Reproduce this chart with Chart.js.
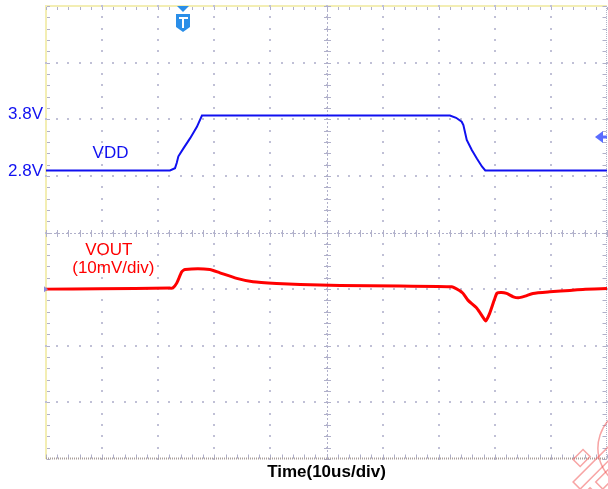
<!DOCTYPE html>
<html>
<head>
<meta charset="utf-8">
<script src="https://cdn.jsdelivr.net/npm/chart.js@4.4.1/dist/chart.umd.min.js"></script>
<style>
  html, body { margin: 0; padding: 0; background: #fff; }
  #wrap { position: relative; width: 608px; height: 489px; }
</style>
</head>
<body>
<div id="wrap"><canvas id="chart"></canvas></div>
<script>
// time axis, microseconds (10 us / div)
const vddTime  = [0, 22.1, 23.0, 23.3, 23.6, 24.5, 25.7, 26.9, 27.8, 72.0, 73.1, 74.1, 74.4, 75.0, 75.9, 76.8, 77.7, 78.3, 100];
const vddVolts = [2.81, 2.81, 2.85, 2.94, 3.06, 3.20, 3.38, 3.58, 3.78, 3.78, 3.74, 3.67, 3.61, 3.35, 3.17, 3.02, 2.88, 2.81, 2.81];

// VOUT deviation, millivolts (10 mV / div)
const voutTime = [0, 9.6, 22.1, 22.6, 23.3, 24.2, 24.8, 29.2, 31.0, 34.0, 36.9, 41.1, 45.3, 52.4, 63.1, 72.3,
                  73.8, 74.3, 75.2, 76.8, 78.0, 78.4, 79.1, 79.9, 80.4, 81.2, 82.1, 83.3, 84.2, 85.4, 86.8, 89.8, 95.7, 100];
const voutMv   = [0, 0.05, 0.18, 0.2, 1.06, 3.06, 3.48, 3.48, 2.88, 1.89, 1.29, 1.0, 0.83, 0.65, 0.53, 0.41,
                  -0.30, -0.71, -1.94, -3.36, -5.12, -5.60, -4.24, -1.94, -0.71, -0.58, -0.76, -1.36, -1.54, -1.24, -0.76, -0.48, -0.05, 0.09];

const vddTicks = [2.8, 3.8];
const triggerTime = 24.4;     // us
const triggerLevel = 3.40;    // V

const FONT = "'Liberation Sans', Arial, sans-serif";
const BLUE = '#1010f0';
const RED = '#ff0000';

const pts = (xs, ys) => xs.map((x, i) => ({x: x, y: ys[i]}));

const scopeGrid = {
    id: 'scopeGrid',
    beforeDatasetsDraw(chart) {
        const { ctx, chartArea: a, scales: { x, yM } } = chart;
        ctx.save();
        // pale yellow frame, left and top
        ctx.fillStyle = '#f3eeb4';
        ctx.fillRect(a.left - 1, a.top - 1, 2, a.bottom - a.top + 1);
        ctx.fillRect(a.left - 1, a.top - 1, a.right - a.left + 1, 2);

        // dotted division lines
        ctx.fillStyle = '#c0c0d6';
        for (let t = 10; t < 100; t += 10) {
            const px = Math.round(x.getPixelForValue(t));
            for (let m = -30; m <= 50; m += 2) {
                ctx.fillRect(px - 1, Math.round(yM.getPixelForValue(m)) - 1, 2, 2);
            }
        }
        for (let m = -20; m < 50; m += 10) {
            const py = Math.round(yM.getPixelForValue(m));
            for (let t = 0; t <= 100; t += 2) {
                ctx.fillRect(Math.round(x.getPixelForValue(t)) - 1, py - 1, 2, 2);
            }
        }

        // centre cross, dense dashes with small ticks
        const cx = Math.round(x.getPixelForValue(50));
        const cy = Math.round(yM.getPixelForValue(10));
        ctx.strokeStyle = '#b0b0ca';
        ctx.lineWidth = 1;
        ctx.setLineDash([2, 2]);
        ctx.beginPath();
        ctx.moveTo(cx + 0.5, a.top); ctx.lineTo(cx + 0.5, a.bottom);
        ctx.moveTo(a.left, cy + 0.5); ctx.lineTo(a.right, cy + 0.5);
        ctx.stroke();
        ctx.setLineDash([]);
        ctx.beginPath();
        for (let m = -30; m <= 50; m += 2) {
            const py = Math.round(yM.getPixelForValue(m)) + 0.5;
            ctx.moveTo(cx - 3, py); ctx.lineTo(cx + 4, py);
        }
        for (let t = 0; t <= 100; t += 2) {
            const px = Math.round(x.getPixelForValue(t)) + 0.5;
            ctx.moveTo(px, cy - 3); ctx.lineTo(px, cy + 4);
        }
        ctx.stroke();

        // border ticks
        ctx.beginPath();
        const bottom = Math.round(a.bottom) - 0.5;
        const right = Math.round(a.right) - 0.5;
        for (let t = 0; t <= 100; t += 2) {
            const px = Math.round(x.getPixelForValue(t)) + 0.5;
            ctx.moveTo(px, a.top + 1); ctx.lineTo(px, a.top + 4);
            ctx.moveTo(px, bottom); ctx.lineTo(px, bottom - 4);
        }
        for (let m = -30; m <= 50; m += 2) {
            const py = Math.round(yM.getPixelForValue(m)) + 0.5;
            ctx.moveTo(a.left + 1, py); ctx.lineTo(a.left + 4, py);
            ctx.moveTo(right, py); ctx.lineTo(right - 4, py);
        }
        ctx.stroke();
        ctx.strokeStyle = '#a89e9a';
        ctx.setLineDash([1, 1]);
        ctx.lineWidth = 2;
        ctx.beginPath();
        ctx.moveTo(a.left, bottom); ctx.lineTo(a.right, bottom);
        ctx.stroke();
        ctx.lineWidth = 1;
        ctx.strokeStyle = '#b0b0c8';
        ctx.beginPath();
        ctx.moveTo(right, a.top); ctx.lineTo(right, a.bottom);
        ctx.stroke();
        ctx.restore();
    }
};

const scopeMarks = {
    id: 'scopeMarks',
    afterDatasetsDraw(chart) {
        const { ctx, chartArea: a, scales: { x, yV, yM } } = chart;
        ctx.save();

        // labels
        ctx.textAlign = 'center';
        ctx.textBaseline = 'middle';
        ctx.font = '17px ' + FONT;
        ctx.fillStyle = BLUE;
        ctx.fillText('VDD', x.getPixelForValue(11.5), yV.getPixelForValue(3.12));
        ctx.fillStyle = RED;
        ctx.fillText('VOUT', x.getPixelForValue(11.2), yM.getPixelForValue(6.9));
        ctx.fillText('(10mV/div)', x.getPixelForValue(12.0), yM.getPixelForValue(3.7));

        // trigger position marker
        const tx = Math.round(x.getPixelForValue(triggerTime));
        ctx.fillStyle = '#2a8ee8';
        ctx.beginPath();
        ctx.moveTo(tx - 6, a.top); ctx.lineTo(tx + 6, a.top); ctx.lineTo(tx, a.top + 6);
        ctx.closePath(); ctx.fill();
        ctx.beginPath();
        ctx.moveTo(tx - 7, a.top + 8);
        ctx.lineTo(tx + 7, a.top + 8);
        ctx.lineTo(tx + 7, a.top + 21);
        ctx.lineTo(tx, a.top + 26);
        ctx.lineTo(tx - 7, a.top + 21);
        ctx.closePath(); ctx.fill();
        ctx.fillStyle = '#fff';
        ctx.fillRect(tx - 4, a.top + 11, 9, 2);
        ctx.fillRect(tx - 1, a.top + 11, 2, 11);

        // trigger level marker
        const ly = yV.getPixelForValue(triggerLevel);
        ctx.fillStyle = '#5a6cff';
        ctx.beginPath();
        ctx.moveTo(a.right - 12, ly); ctx.lineTo(a.right - 4, ly - 6); ctx.lineTo(a.right - 4, ly + 6);
        ctx.closePath(); ctx.fill();
        ctx.fillRect(a.right - 5, ly - 1.5, 5, 3);

        // VOUT ground marker
        const gy = yM.getPixelForValue(0);
        ctx.fillStyle = '#8a8ad8';
        ctx.beginPath();
        ctx.moveTo(a.left - 2, gy - 3); ctx.lineTo(a.left + 2, gy); ctx.lineTo(a.left - 2, gy + 3);
        ctx.closePath(); ctx.fill();

        // faint watermark in the bottom right corner
        ctx.strokeStyle = 'rgba(240,90,90,0.55)';
        ctx.lineWidth = 1.5;
        ctx.beginPath();
        ctx.arc(640, 448, 42, Math.PI * 0.6, Math.PI * 1.4);
        ctx.stroke();
        ctx.translate(583, 458);
        ctx.rotate(-Math.PI / 4);
        ctx.strokeRect(-8, -6, 14, 10);
        ctx.strokeRect(-24, 10, 52, 10);
        ctx.strokeRect(-30, 26, 14, 10);
        ctx.strokeRect(-8, 26, 40, 10);
        ctx.restore();
    }
};

new Chart(document.getElementById('chart'), {
    type: 'line',
    data: {
        datasets: [
            {
                label: 'VDD',
                data: pts(vddTime, vddVolts),
                yAxisID: 'yV',
                borderColor: BLUE,
                borderWidth: 2,
                pointRadius: 0,
                tension: 0,
            },
            {
                label: 'VOUT',
                data: pts(voutTime, voutMv),
                yAxisID: 'yM',
                borderColor: RED,
                borderWidth: 3,
                pointRadius: 0,
                tension: 0.2,
            },
        ]
    },
    options: {
        responsive: true,
        maintainAspectRatio: false,
        animation: false,
        devicePixelRatio: 1,
        layout: { padding: { top: 6, right: 1, left: 0, bottom: 0 } },
        plugins: { legend: { display: false }, tooltip: { enabled: false } },
        scales: {
            x: {
                type: 'linear', min: 0, max: 100,
                grid: { display: false, drawTicks: false },
                border: { display: false },
                ticks: { display: false },
                title: {
                    display: true, text: 'Time(10us/div)', color: '#000',
                    font: { family: FONT, size: 17, weight: 'bold' },
                    padding: { top: 0, bottom: 6 },
                },
                afterFit: s => { s.height = 30; s.paddingLeft = 0; s.paddingRight = 0; },
            },
            yV: {
                position: 'left',
                min: 2.8 - 5.086, max: 2.8 + 2.914,
                grid: { display: false, drawTicks: false },
                border: { display: false },
                ticks: {
                    color: BLUE, padding: 3,
                    font: { family: FONT, size: 17 },
                    callback: v => v.toFixed(1) + 'V',
                },
                afterBuildTicks: s => { s.ticks = vddTicks.map(v => ({ value: v })); },
                afterFit: s => { s.width = 46; s.paddingTop = 0; s.paddingBottom = 0; },
            },
            yM: {
                display: false,
                min: -30, max: 50,
            },
        }
    },
    plugins: [scopeGrid, scopeMarks],
});
</script>
</body>
</html>
